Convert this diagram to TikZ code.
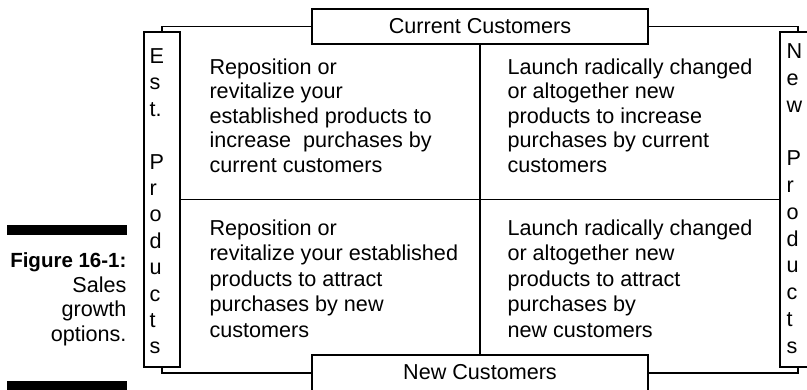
\documentclass[tikz,border=0pt]{standalone}
\usepackage{fontspec}
\setmainfont{Liberation Sans}

\begin{document}
\begin{tikzpicture}[x=1pt,y=-1pt,line width=1.1pt,
        every node/.style={font=\fontsize{21.6}{24.5}\selectfont},
        headbox/.style={draw,minimum width=336pt,minimum height=35pt,inner sep=0pt},
        sidebox/.style={draw,minimum width=36pt,minimum height=335pt,inner sep=0pt},
        celltext/.style={anchor=north west,align=left,inner sep=0pt},
        sidetext/.style={anchor=north west,align=left,inner sep=0pt}]
                \useasboundingbox (0,0) rectangle (807,390);

                \fill (7,225) rectangle (127,235);
                \fill (7,381) rectangle (127,392);
                \node[anchor=north east,align=right,inner sep=0pt,font=\fontsize{21.6}{24.7}\selectfont] (caption) at (127,252)
                    {{\bfseries\fontsize{20.5}{24.7}\selectfont Figure 16-1:}\\Sales\\growth\\options.};

                \node[headbox] (cur) at (480,26.5) {Current Customers};
                \node[headbox,minimum height=36pt,text depth=3pt] (newc) at (480,373) {New Customers};

                \node[sidebox] (est) at (162,199.5) {};
                \node[sidebox] (newp) at (798,199.5) {};

                \draw (est.north) |- (cur.west);
                \draw (cur.east) -| (newp.north);
                \draw (est.south) |- (newc.west);
                \draw (newc.east) -| (newp.south);

                \draw (cur.south) -- (newc.north);
                \draw (est.east) -- (newp.west);

                \node[sidetext,font=\fontsize{21.6}{26.4}\selectfont] (estlbl) at (149,48) {E\\s\\t.\\~\\P\\r\\o\\d\\u\\c\\t\\s};
                \node[sidetext,font=\fontsize{21.6}{26.8}\selectfont] (newlbl) at (786,43) {N\\e\\w\\~\\P\\r\\o\\d\\u\\c\\t\\s};

                \node[celltext] (tl) at (209,58) {Reposition or\\revitalize your\\established products to\\increase\ \ purchases by\\current customers};
                \node[celltext] (tr) at (507,58) {Launch radically changed\\or altogether new\\products to increase\\purchases by current\\customers};
                \node[celltext,font=\fontsize{21.6}{25.5}\selectfont] (bl) at (209,219) {Reposition or\\revitalize your established\\products to attract\\purchases by new\\customers};
                \node[celltext,font=\fontsize{21.6}{25.5}\selectfont] (br) at (507,219) {Launch radically changed\\or altogether new\\products to attract\\purchases by\\new customers};
            \end{tikzpicture}
\end{document}
